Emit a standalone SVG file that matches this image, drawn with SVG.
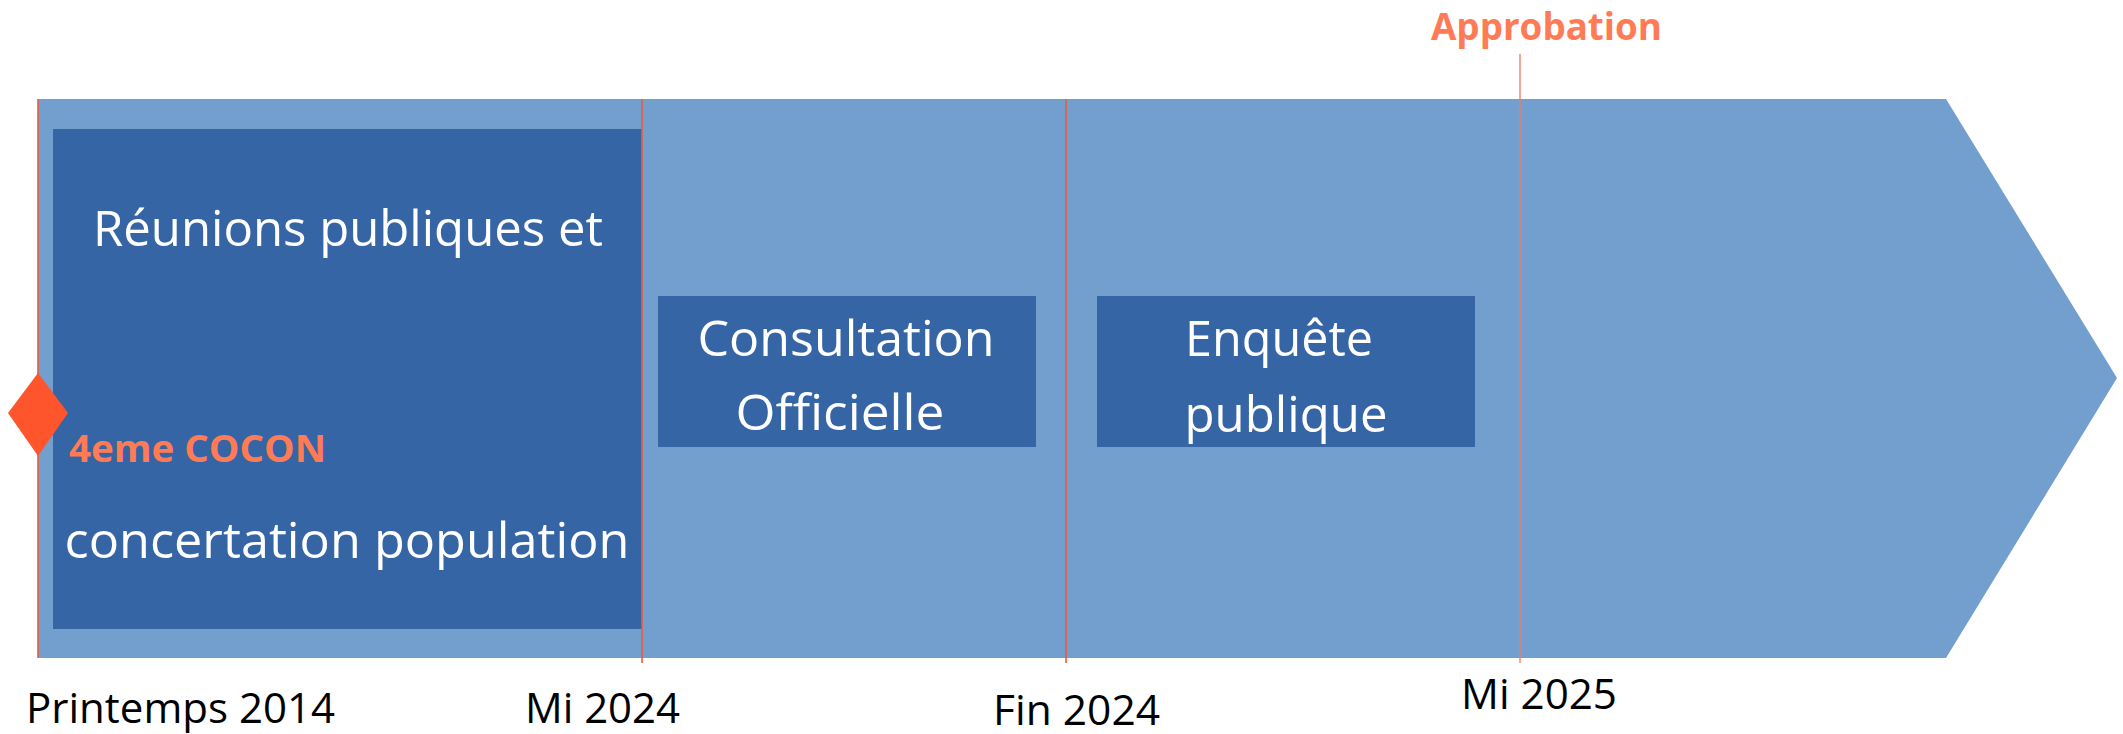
<svg xmlns="http://www.w3.org/2000/svg" width="2123" height="734" viewBox="0 0 2123 734">
<style>
.box{fill:#3565A5}
.w{fill:#FFFFFF;font-family:"Open Sans","Noto Sans","Liberation Sans",sans-serif;font-size:49px}
.date{fill:#000000;font-family:"Open Sans","Noto Sans","Liberation Sans",sans-serif;font-size:42px}
.or{fill:#FF7B55;font-family:"Open Sans","Noto Sans","Liberation Sans",sans-serif;font-size:37px;font-weight:bold}
.tick{stroke:#EC5B3C;stroke-width:1.6;fill:none}
</style>
<rect width="2123" height="734" fill="#FFFFFF"/>
<g id="timeline-arrow">
<polygon points="38,99 1946,99 2117,378 1946,658 38,658" fill="#739FCF"/>
</g>
<g id="node-reunions">
<rect class="box" x="53" y="129" width="589" height="500"/>
<text class="w" x="348" y="246" text-anchor="middle" textLength="510" lengthAdjust="spacingAndGlyphs">Réunions publiques et</text>
<text class="w" x="347" y="558" text-anchor="middle" textLength="565" lengthAdjust="spacingAndGlyphs">concertation population</text>
</g>
<g id="node-consultation">
<rect class="box" x="658" y="296" width="378" height="151"/>
<text class="w" x="846" y="356" text-anchor="middle" textLength="297" lengthAdjust="spacingAndGlyphs">Consultation</text>
<text class="w" x="840" y="430" text-anchor="middle" textLength="209" lengthAdjust="spacingAndGlyphs">Officielle</text>
</g>
<g id="node-enquete">
<rect class="box" x="1097" y="296" width="378" height="151"/>
<text class="w" x="1279" y="356" text-anchor="middle" textLength="188" lengthAdjust="spacingAndGlyphs">Enquête</text>
<text class="w" x="1286" y="432" text-anchor="middle" textLength="203" lengthAdjust="spacingAndGlyphs">publique</text>
</g>
<g id="connectors">
<line class="tick" x1="38" y1="99" x2="38" y2="658"/>
<line class="tick" x1="642" y1="99" x2="642" y2="663"/>
<line class="tick" x1="1066" y1="99" x2="1066" y2="663"/>
<line x1="1520" y1="54" x2="1520" y2="663" stroke="#F07A62" stroke-opacity="0.65" stroke-width="2"/>
</g>
<g id="milestone-cocon">
<polygon points="38,373 68,413 38,456 8,413" fill="#FF552D"/>
<text class="or" x="69" y="462" textLength="257" lengthAdjust="spacingAndGlyphs">4eme COCON</text>
</g>
<g id="milestone-approbation">
<text class="or" x="1431" y="40" textLength="231" lengthAdjust="spacingAndGlyphs">Approbation</text>
</g>
<g id="dates">
<text class="date" x="26" y="723" textLength="309" lengthAdjust="spacingAndGlyphs">Printemps 2014</text>
<text class="date" x="525" y="723" textLength="155" lengthAdjust="spacingAndGlyphs">Mi 2024</text>
<text class="date" x="993" y="725" textLength="167" lengthAdjust="spacingAndGlyphs">Fin 2024</text>
<text class="date" x="1461" y="709" textLength="156" lengthAdjust="spacingAndGlyphs">Mi 2025</text>
</g>
</svg>
